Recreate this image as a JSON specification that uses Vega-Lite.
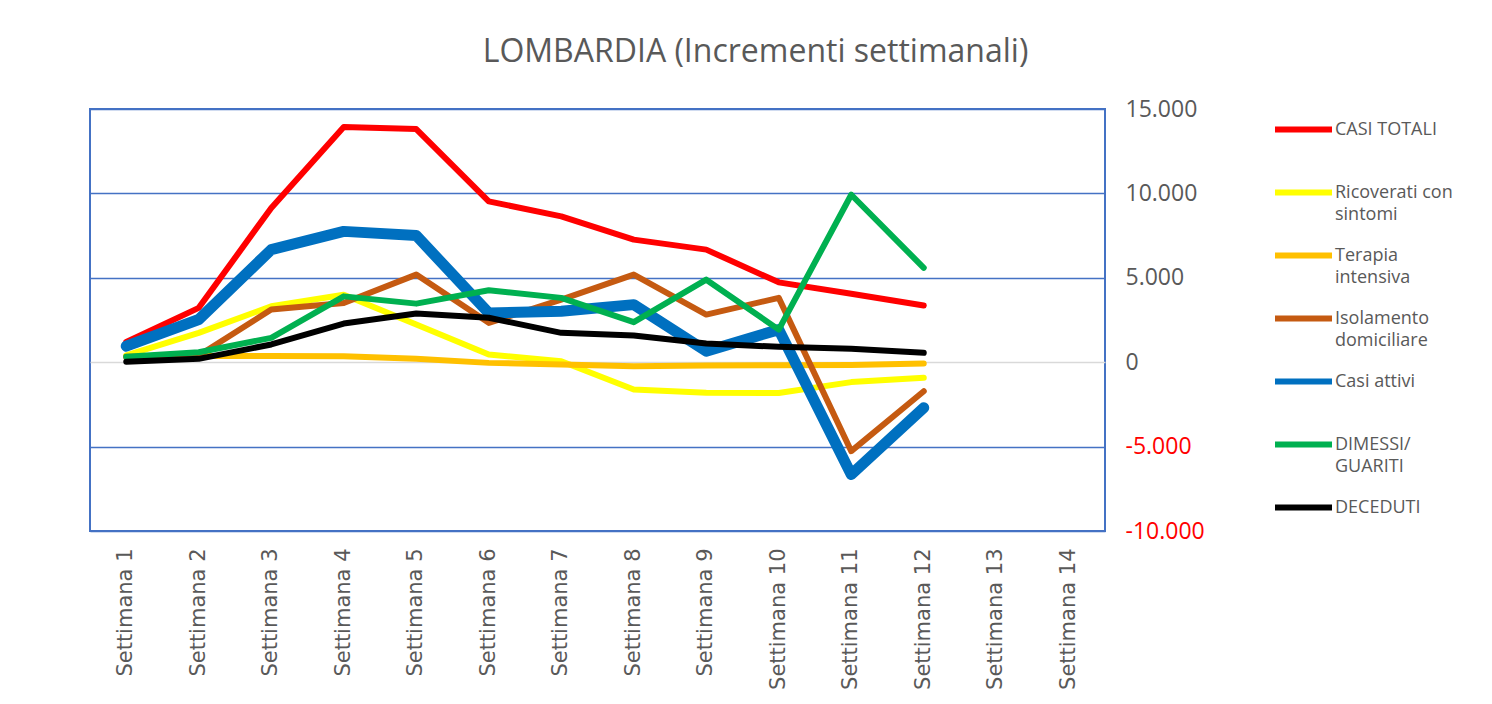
{
  "$schema": "https://vega.github.io/schema/vega-lite/v6.json",
  "width": 1015,
  "height": 422,
  "autosize": {"type": "none"},
  "padding": {"left": 90, "top": 109, "right": 387, "bottom": 173},
  "background": "white",
  "title": {
    "text": "LOMBARDIA (Incrementi settimanali)",
    "font": "Open Sans",
    "fontSize": 32,
    "fontWeight": "normal",
    "color": "#595959",
    "anchor": "middle",
    "dx": 158,
    "offset": 29
  },
  "data": {
    "values": [
      {"w": "Settimana 1", "s": "CASI TOTALI", "v": 1200},
      {"w": "Settimana 2", "s": "CASI TOTALI", "v": 3220},
      {"w": "Settimana 3", "s": "CASI TOTALI", "v": 9140},
      {"w": "Settimana 4", "s": "CASI TOTALI", "v": 13930},
      {"w": "Settimana 5", "s": "CASI TOTALI", "v": 13810},
      {"w": "Settimana 6", "s": "CASI TOTALI", "v": 9530},
      {"w": "Settimana 7", "s": "CASI TOTALI", "v": 8640},
      {"w": "Settimana 8", "s": "CASI TOTALI", "v": 7260},
      {"w": "Settimana 9", "s": "CASI TOTALI", "v": 6670},
      {"w": "Settimana 10", "s": "CASI TOTALI", "v": 4730},
      {"w": "Settimana 11", "s": "CASI TOTALI", "v": 4050},
      {"w": "Settimana 12", "s": "CASI TOTALI", "v": 3360},
      {"w": "Settimana 1", "s": "Ricoverati con sintomi", "v": 400},
      {"w": "Settimana 2", "s": "Ricoverati con sintomi", "v": 1740},
      {"w": "Settimana 3", "s": "Ricoverati con sintomi", "v": 3310},
      {"w": "Settimana 4", "s": "Ricoverati con sintomi", "v": 4000},
      {"w": "Settimana 5", "s": "Ricoverati con sintomi", "v": 2230},
      {"w": "Settimana 6", "s": "Ricoverati con sintomi", "v": 460},
      {"w": "Settimana 7", "s": "Ricoverati con sintomi", "v": 60},
      {"w": "Settimana 8", "s": "Ricoverati con sintomi", "v": -1615},
      {"w": "Settimana 9", "s": "Ricoverati con sintomi", "v": -1810},
      {"w": "Settimana 10", "s": "Ricoverati con sintomi", "v": -1830},
      {"w": "Settimana 11", "s": "Ricoverati con sintomi", "v": -1180},
      {"w": "Settimana 12", "s": "Ricoverati con sintomi", "v": -920},
      {"w": "Settimana 1", "s": "Terapia intensiva", "v": 350},
      {"w": "Settimana 2", "s": "Terapia intensiva", "v": 360},
      {"w": "Settimana 3", "s": "Terapia intensiva", "v": 360},
      {"w": "Settimana 4", "s": "Terapia intensiva", "v": 355},
      {"w": "Settimana 5", "s": "Terapia intensiva", "v": 200},
      {"w": "Settimana 6", "s": "Terapia intensiva", "v": -40},
      {"w": "Settimana 7", "s": "Terapia intensiva", "v": -140},
      {"w": "Settimana 8", "s": "Terapia intensiva", "v": -240},
      {"w": "Settimana 9", "s": "Terapia intensiva", "v": -200},
      {"w": "Settimana 10", "s": "Terapia intensiva", "v": -180},
      {"w": "Settimana 11", "s": "Terapia intensiva", "v": -160},
      {"w": "Settimana 12", "s": "Terapia intensiva", "v": -80},
      {"w": "Settimana 1", "s": "Isolamento domiciliare", "v": 300},
      {"w": "Settimana 2", "s": "Isolamento domiciliare", "v": 400},
      {"w": "Settimana 3", "s": "Isolamento domiciliare", "v": 3120},
      {"w": "Settimana 4", "s": "Isolamento domiciliare", "v": 3510},
      {"w": "Settimana 5", "s": "Isolamento domiciliare", "v": 5190},
      {"w": "Settimana 6", "s": "Isolamento domiciliare", "v": 2330},
      {"w": "Settimana 7", "s": "Isolamento domiciliare", "v": 3710},
      {"w": "Settimana 8", "s": "Isolamento domiciliare", "v": 5190},
      {"w": "Settimana 9", "s": "Isolamento domiciliare", "v": 2820},
      {"w": "Settimana 10", "s": "Isolamento domiciliare", "v": 3810},
      {"w": "Settimana 11", "s": "Isolamento domiciliare", "v": -5270},
      {"w": "Settimana 12", "s": "Isolamento domiciliare", "v": -1720},
      {"w": "Settimana 1", "s": "Casi attivi", "v": 950},
      {"w": "Settimana 2", "s": "Casi attivi", "v": 2530},
      {"w": "Settimana 3", "s": "Casi attivi", "v": 6670},
      {"w": "Settimana 4", "s": "Casi attivi", "v": 7750},
      {"w": "Settimana 5", "s": "Casi attivi", "v": 7500},
      {"w": "Settimana 6", "s": "Casi attivi", "v": 2920},
      {"w": "Settimana 7", "s": "Casi attivi", "v": 3020},
      {"w": "Settimana 8", "s": "Casi attivi", "v": 3410},
      {"w": "Settimana 9", "s": "Casi attivi", "v": 650},
      {"w": "Settimana 10", "s": "Casi attivi", "v": 1930},
      {"w": "Settimana 11", "s": "Casi attivi", "v": -6650},
      {"w": "Settimana 12", "s": "Casi attivi", "v": -2700},
      {"w": "Settimana 1", "s": "DIMESSI/GUARITI", "v": 320},
      {"w": "Settimana 2", "s": "DIMESSI/GUARITI", "v": 590},
      {"w": "Settimana 3", "s": "DIMESSI/GUARITI", "v": 1440},
      {"w": "Settimana 4", "s": "DIMESSI/GUARITI", "v": 3900},
      {"w": "Settimana 5", "s": "DIMESSI/GUARITI", "v": 3470},
      {"w": "Settimana 6", "s": "DIMESSI/GUARITI", "v": 4260},
      {"w": "Settimana 7", "s": "DIMESSI/GUARITI", "v": 3810},
      {"w": "Settimana 8", "s": "DIMESSI/GUARITI", "v": 2370},
      {"w": "Settimana 9", "s": "DIMESSI/GUARITI", "v": 4890},
      {"w": "Settimana 10", "s": "DIMESSI/GUARITI", "v": 1930},
      {"w": "Settimana 11", "s": "DIMESSI/GUARITI", "v": 9920},
      {"w": "Settimana 12", "s": "DIMESSI/GUARITI", "v": 5590},
      {"w": "Settimana 1", "s": "DECEDUTI", "v": 30},
      {"w": "Settimana 2", "s": "DECEDUTI", "v": 200},
      {"w": "Settimana 3", "s": "DECEDUTI", "v": 1050},
      {"w": "Settimana 4", "s": "DECEDUTI", "v": 2290},
      {"w": "Settimana 5", "s": "DECEDUTI", "v": 2880},
      {"w": "Settimana 6", "s": "DECEDUTI", "v": 2630},
      {"w": "Settimana 7", "s": "DECEDUTI", "v": 1740},
      {"w": "Settimana 8", "s": "DECEDUTI", "v": 1580},
      {"w": "Settimana 9", "s": "DECEDUTI", "v": 1110},
      {"w": "Settimana 10", "s": "DECEDUTI", "v": 910},
      {"w": "Settimana 11", "s": "DECEDUTI", "v": 790},
      {"w": "Settimana 12", "s": "DECEDUTI", "v": 560}
    ]
  },
  "mark": {"type": "line", "strokeCap": "round", "strokeJoin": "round"},
  "encoding": {
    "x": {
      "field": "w",
      "type": "nominal",
      "sort": null,
      "scale": {
        "type": "band",
        "paddingInner": 0,
        "paddingOuter": 0,
        "domain": ["Settimana 1", "Settimana 2", "Settimana 3", "Settimana 4", "Settimana 5", "Settimana 6", "Settimana 7", "Settimana 8", "Settimana 9", "Settimana 10", "Settimana 11", "Settimana 12", "Settimana 13", "Settimana 14"]
      },
      "axis": {
        "title": null,
        "labelAngle": -90,
        "labelFont": "DejaVu Sans",
        "labelFontSize": 21,
        "labelColor": "#595959",
        "labelPadding": 17,
        "ticks": false,
        "domain": false,
        "grid": false
      }
    },
    "y": {
      "field": "v",
      "type": "quantitative",
      "scale": {"domain": [-10000, 15000], "nice": false, "zero": false},
      "axis": {
        "title": null,
        "orient": "right",
        "values": [-10000, -5000, 0, 5000, 10000, 15000],
        "format": ",.0f",
        "labelFont": "Open Sans",
        "labelFontSize": 23,
        "labelColor": {"condition": {"test": "datum.value < 0", "value": "#FF0000"}, "value": "#595959"},
        "labelPadding": 20,
        "ticks": false,
        "domain": false,
        "grid": true,
        "gridColor": {"condition": {"test": "datum.value === 0", "value": "#D9D9D9"}, "value": "#4472C4"},
        "gridWidth": 1.5,
        "gridOpacity": 1
      }
    },
    "color": {
      "field": "s",
      "type": "nominal",
      "scale": {
        "domain": ["CASI TOTALI", "Ricoverati con sintomi", "Terapia intensiva", "Isolamento domiciliare", "Casi attivi", "DIMESSI/GUARITI", "DECEDUTI"],
        "range": ["#FF0000", "#FFFF00", "#FFC000", "#C55A11", "#0070C0", "#00B050", "#000000"]
      },
      "legend": {
        "orient": "none",
        "legendX": 1182,
        "legendY": -11,
        "title": null,
        "symbolType": "stroke",
        "symbolSize": 3249,
        "symbolStrokeWidth": 6,
        "labelFont": "Open Sans",
        "labelFontSize": 18,
        "labelColor": "#595959",
        "labelOffset": 0,
        "labelLimit": 300,
        "rowPadding": 0,
        "labelExpr": "datum.label == 'Ricoverati con sintomi' ? ['Ricoverati con', 'sintomi'] : datum.label == 'Terapia intensiva' ? ['Terapia', 'intensiva'] : datum.label == 'Isolamento domiciliare' ? ['Isolamento', 'domiciliare'] : datum.label == 'DIMESSI/GUARITI' ? ['DIMESSI/', 'GUARITI'] : [datum.label, '']"
      }
    },
    "strokeWidth": {"condition": {"test": "datum.s === 'Casi attivi'", "value": 11}, "value": 6}
  },
  "config": {
    "locale": {
      "number": {"decimal": ",", "thousands": ".", "grouping": [3], "currency": ["€", ""], "minus": "-"}
    },
    "view": {"stroke": "#4472C4", "strokeWidth": 2},
    "style": {"guide-label": {"lineHeight": 22}}
  }
}
